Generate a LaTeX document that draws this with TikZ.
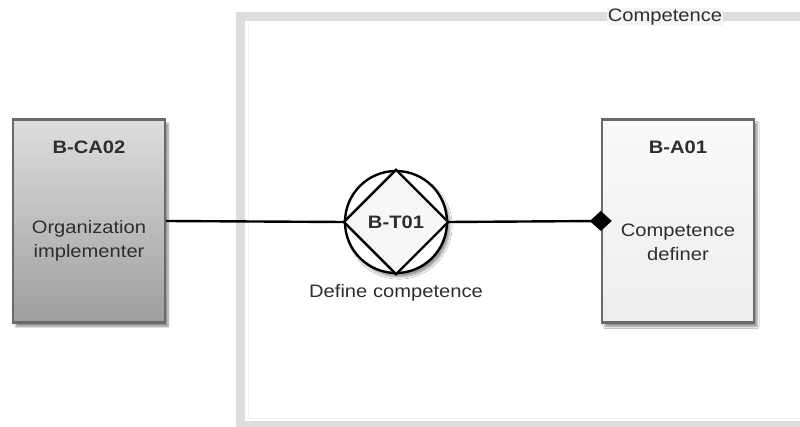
\documentclass[tikz,border=0pt]{standalone}
\usepackage{fontspec}
\setmainfont[FakeStretch=1.12]{Liberation Sans}
\usetikzlibrary{arrows.meta,shadows.blur,calc}
\definecolor{txt}{HTML}{2E2E2E}
\definecolor{edge}{HTML}{6A6A6A}
\definecolor{band}{HTML}{DDDDDD}
\tikzset{
  actorbox/.style={draw=edge, line width=2.4pt, minimum width=152pt, minimum height=203pt,
    blur shadow={shadow xshift=3pt, shadow yshift=-4pt, shadow blur steps=6, shadow opacity=45}},
  boxtitle/.style={font=\fontsize{18}{20}\selectfont\bfseries, text=txt},
  boxtext/.style={font=\fontsize{18}{24}\selectfont, text=txt, align=center},
  link/.style={line width=2.4pt, black},
}
\begin{document}
\begin{tikzpicture}[x=1pt,y=-1pt]
\useasboundingbox (0,0) rectangle (800,427);
% scope boundary of the composition
\fill[band] (236,12) rectangle (812,440);
\fill[white] (245,21) rectangle (812,421);
\draw[black!6, line width=0.8pt] (248,24) -- (248,418) -- (812,418);
\node[font=\fontsize{18}{20}\selectfont, text=txt, fill=white!70!band, inner sep=1pt] (scope) at (665,17) {Competence};

% elementary actor B-CA02 (composite, shaded)
\node[actorbox, top color=black!13, bottom color=black!38] (ca02) at (89,221) {};
\node[boxtitle] (ca02id) at (89,147) {B-CA02};
\node[boxtext] (ca02name) at (89,241) {Organization\\implementer};

% elementary actor B-A01
\node[actorbox, top color=black!2, bottom color=black!7] (a01) at (678,221) {};
\node[boxtitle] (a01id) at (678,147) {B-A01};
\node[boxtext] (a01name) at (678,242) {Competence\\definer};

% transaction B-T01
\node[circle, draw=black, line width=2.4pt, fill=white, minimum size=102pt, inner sep=0pt,
  blur shadow={shadow xshift=3pt, shadow yshift=-4pt, shadow blur steps=6, shadow opacity=40}] (t01) at (396,222) {};
\draw[line width=2.4pt, fill=black!3, line join=miter] (t01.north) -- (t01.east) -- (t01.south) -- (t01.west) -- cycle;
\node[boxtitle] (t01id) at (396,222) {B-T01};
\node[boxtext] (t01name) at (396,293) {Define competence};

% initiator and executor links
\draw[link] (ca02.east) -- (t01.west);
\draw[link, shorten >=-11pt, -{Diamond[length=22pt,width=20pt]}] (t01.east) -- (a01.west);
\end{tikzpicture}
\end{document}
